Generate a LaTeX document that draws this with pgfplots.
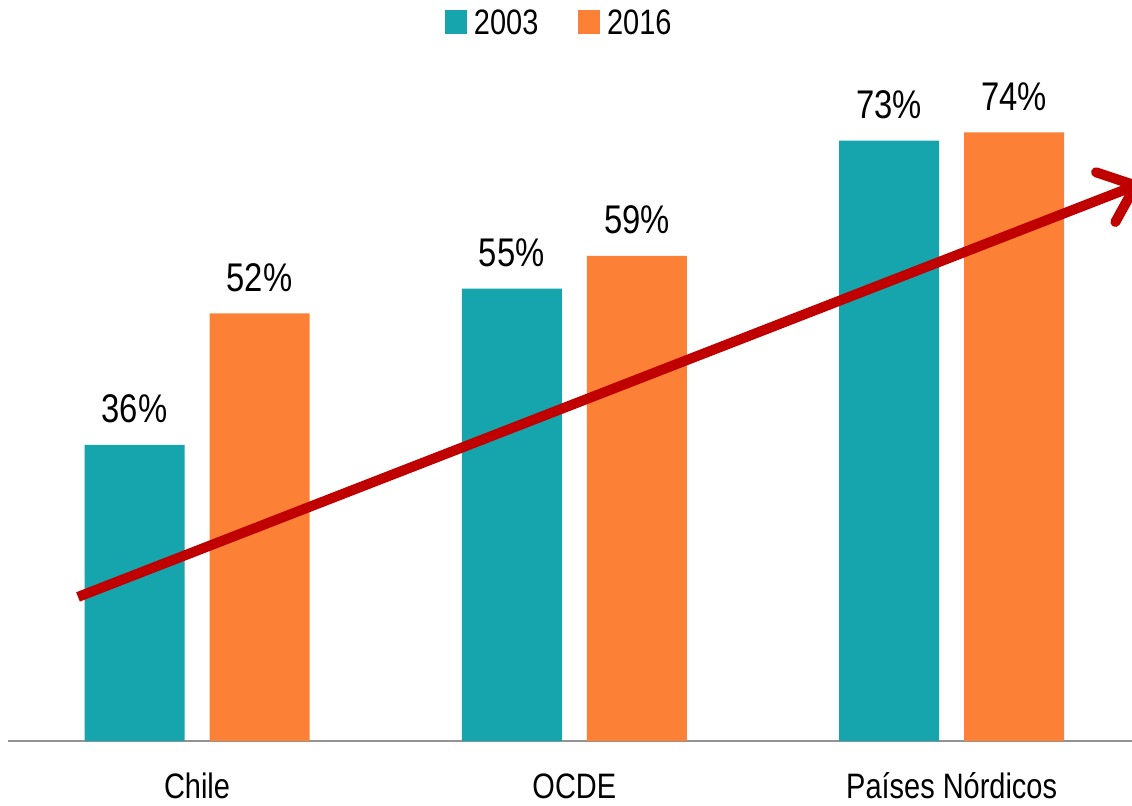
\documentclass[border=0pt]{standalone}
\usepackage{pgfplots}
\pgfplotsset{compat=1.18}
\usetikzlibrary{arrows.meta}
\usepackage{fontspec}
\setmainfont{Liberation Sans}[FakeStretch=0.82]
\definecolor{teal2}{HTML}{16A5AD}
\definecolor{orange2}{HTML}{FC8136}
\definecolor{arrowred}{HTML}{C00000}
\begin{document}
\begin{tikzpicture}
\begin{axis}[
  at={(0,0)}, anchor=south west,
  scale only axis, width=843pt, height=555.75pt,
  xmin=-0.501, xmax=2.478, ymin=0, ymax=90.1,
  /pgf/number format/assume math mode=true,
  hide y axis,
  axis x line*=bottom,
  x axis line style={color=gray!85, line width=1.1pt},
  xtick={0,1,2}, xticklabels={Chile,OCDE,Países Nórdicos},
  major tick length=0pt,
  xticklabel style={font=\fontsize{26.5}{30}\selectfont, anchor=base, yshift=-42.75pt, inner sep=0pt},
  ybar, bar width=0.265,
  nodes near coords={\pgfmathprintnumber{\pgfplotspointmeta}\%},
  every node near coord/.append style={font=\fontsize{30}{34}\selectfont, anchor=base, yshift=16.5pt, inner sep=0pt, text=black},
  legend columns=2,
  legend image code/.code={\fill[#1,draw=none] (0pt,-8.25pt) rectangle (16.5pt,9.75pt);},
  legend style={draw=none, fill=none, inner sep=0pt, at={(axis description cs:0.3888,0.969)}, anchor=west,
    font=\fontsize{26.5}{30}\selectfont, nodes={inner sep=0pt},
    /tikz/every odd column/.append style={column sep=5pt},
    /tikz/every even column/.append style={column sep=30pt}},
]
\addplot[fill=teal2, draw=none, bar shift=-0.1657] coordinates {(0,36) (1,55) (2,73)};
\addplot[fill=orange2, draw=none, bar shift=0.1657] coordinates {(0,52) (1,59) (2,74)};
\legend{2003,2016}
\draw[arrowred, line width=7.5pt, -{Straight Barb[length=24pt,width=40pt,round]}] (axis cs:-0.3154,17.52) -- (axis cs:2.4997,67.76);
\end{axis}
\pgfresetboundingbox
\path[use as bounding box] ([xshift=-6pt,yshift=-48pt]current axis.south west) rectangle (current axis.north east);
\end{tikzpicture}
\end{document}
